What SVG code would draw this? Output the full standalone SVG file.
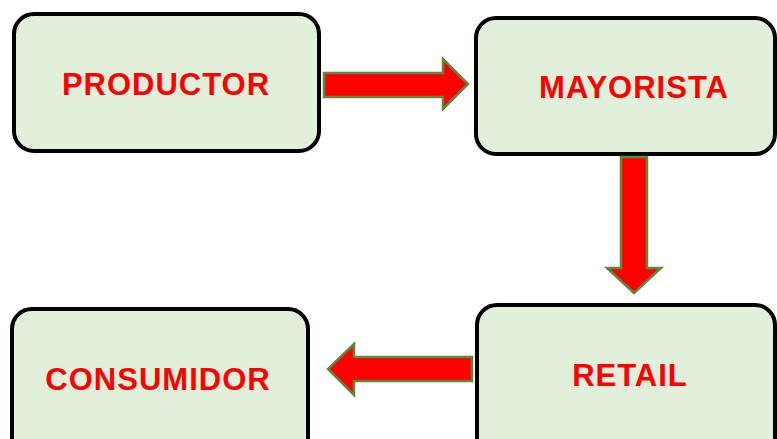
<svg xmlns="http://www.w3.org/2000/svg" width="777" height="439" viewBox="0 0 777 439">
<style>
.box{fill:#E2EFDA;stroke:#000;stroke-width:4}
.lbl{font-family:"Liberation Sans",Arial,sans-serif;font-weight:bold;font-size:31px;letter-spacing:1px;fill:#FF0000;text-anchor:middle}
.arr{fill:#FF0000;stroke:#5B8A3C;stroke-width:2.5;stroke-linejoin:miter}
</style>
<rect width="777" height="439" fill="#fff"/>
<g id="productor">
<rect class="box" x="14" y="14" width="305" height="137" rx="20"/>
<text class="lbl" x="166" y="95">PRODUCTOR</text>
</g>
<g id="mayorista">
<rect class="box" x="476" y="18" width="299" height="136" rx="20"/>
<text class="lbl" x="634" y="98">MAYORISTA</text>
</g>
<g id="retail">
<rect class="box" x="477" y="305" width="298" height="160" rx="20"/>
<text class="lbl" x="630" y="386">RETAIL</text>
</g>
<g id="consumidor">
<rect class="box" x="12" y="309" width="296" height="160" rx="20"/>
<text class="lbl" x="158" y="390">CONSUMIDOR</text>
</g>
<g id="connectors">
<path class="arr" d="M324,73 H443 V59 L468,84 L443,109 V97 H324 Z"/>
<path class="arr" d="M621,157 H647 V268 H661 L634,293 L607,268 H621 Z"/>
<path class="arr" d="M472,357 V381 H354 V395 L328,369 L354,344 V357 Z"/>
</g>
</svg>
